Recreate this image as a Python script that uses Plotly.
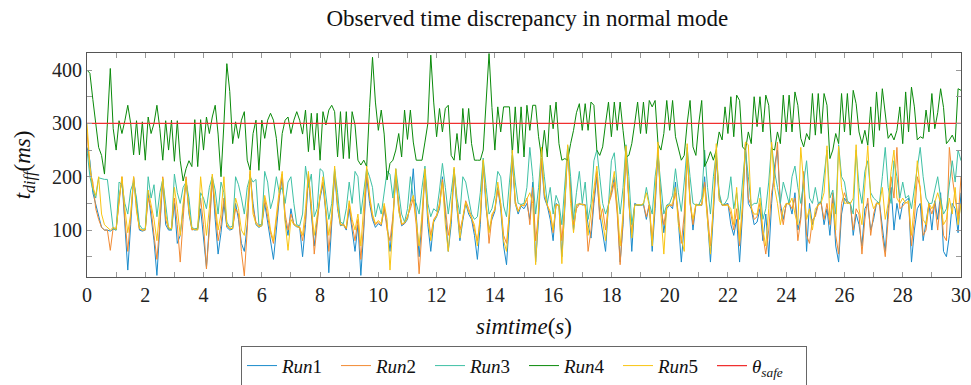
import numpy as np
import plotly.graph_objects as go

simtime = np.round(np.arange(301) * 0.1, 1)

run1 = [
 255,230,170,150,130,105,100,100,98,102,
 100,160,195,110,25,110,198,150,100,98,
 100,170,130,80,15,100,195,110,100,100,
 150,75,90,140,195,130,102,100,101,140,
 90,30,110,200,120,55,95,150,105,100,
 102,150,120,75,60,110,205,150,110,105,
 108,150,115,80,45,100,160,198,120,90,
 140,110,106,105,50,110,200,130,70,120,
 160,185,130,20,110,205,140,108,110,100,
 140,95,60,110,15,100,200,150,120,105,
 112,108,140,110,60,120,200,140,108,112,
 120,150,215,130,50,120,210,110,60,115,
 125,140,200,130,60,110,210,140,80,118,
 150,130,120,90,45,110,225,140,100,120,
 135,180,140,70,35,120,230,150,130,145,
 140,150,120,190,40,120,230,160,145,120,
 80,150,145,50,140,255,180,100,145,150,
 147,148,110,85,150,200,130,90,60,150,
 170,200,140,40,110,250,160,60,150,147,
 147,148,120,147,60,140,250,150,95,140,
 147,140,190,120,40,110,240,160,100,148,
 148,146,200,120,40,130,235,160,147,148,
 150,110,90,120,40,130,260,150,140,110,
 115,140,80,130,50,150,220,250,150,120,
 148,152,130,170,100,125,200,60,150,110,
 130,150,152,110,140,90,160,70,40,130,
 160,150,152,90,130,110,70,140,150,100,
 120,150,152,110,60,140,180,100,150,120,
 150,155,160,40,100,140,150,80,120,150,
 100,155,120,170,60,50,90,150,140,95,170]

run2 = [
 285,210,190,140,120,105,100,100,62,105,
 102,150,200,120,60,125,200,140,102,100,
 100,160,140,90,45,110,200,120,102,101,
 160,110,40,120,200,140,100,102,103,160,
 110,27,100,195,130,80,110,160,108,102,
 104,140,130,60,14,100,210,140,115,108,
 110,160,125,95,75,120,170,205,130,100,
 130,112,108,106,80,120,205,150,55,110,
 165,190,140,60,120,210,150,110,112,102,
 150,110,80,120,45,110,210,160,125,110,
 115,110,145,100,80,125,205,150,110,113,
 125,140,160,110,18,100,212,130,90,120,
 128,150,195,140,90,120,212,150,100,122,
 155,140,125,100,80,120,230,150,75,125,
 140,175,150,90,75,130,240,155,135,148,
 145,160,110,180,80,130,235,165,148,130,
 95,148,146,80,150,250,170,110,140,148,
 149,147,60,100,160,210,120,140,100,148,
 165,190,130,35,120,245,150,95,148,146,
 146,149,125,148,80,150,255,140,110,145,
 148,145,170,130,75,130,245,150,110,147,
 147,148,190,130,70,140,240,165,146,147,
 148,130,100,140,70,140,262,160,145,120,
 125,150,90,55,100,170,200,265,140,110,
 150,150,140,160,80,120,210,90,75,120,
 125,148,150,120,150,110,170,90,55,150,
 170,152,150,100,140,130,55,120,160,90,
 130,151,150,90,50,120,200,160,255,140,
 145,152,150,70,120,200,180,90,100,148,
 130,150,100,160,90,80,255,200,160,120,200]

run3 = [
 250,200,175,160,198,196,195,195,150,102,
 100,190,185,150,130,175,190,160,110,102,
 102,200,160,185,125,170,195,150,103,100,
 205,170,150,180,190,160,105,102,104,170,
 160,140,180,200,175,130,190,170,115,105,
 108,200,185,160,130,180,200,190,195,110,
 110,210,190,140,160,200,170,180,150,190,
 200,150,110,108,130,220,180,205,125,140,
 215,210,160,120,150,215,170,115,112,140,
 190,150,210,200,130,170,215,200,180,125,
 150,130,170,210,205,160,215,175,130,115,
 140,200,160,150,130,180,220,150,125,140,
 135,175,225,180,130,170,215,160,130,200,
 190,160,130,120,125,170,235,180,130,140,
 165,210,200,145,125,190,245,190,150,148,
 150,180,255,200,130,180,250,200,150,180,
 130,165,150,110,190,258,200,120,170,210,
 150,190,120,150,230,250,200,150,130,147,
 230,245,180,130,180,260,200,110,147,147,
 148,147,180,150,130,200,240,180,130,147,
 150,165,215,170,135,190,255,200,150,147,
 147,160,250,180,130,200,245,170,147,150,
 160,200,140,170,120,190,250,200,145,150,
 150,180,120,140,190,262,210,180,150,190,
 170,150,200,220,180,150,190,230,160,150,
 180,150,155,200,250,160,175,130,260,200,
 190,155,150,130,250,180,150,210,230,170,
 160,155,150,200,255,180,150,230,200,160,
 190,160,165,140,180,220,255,200,160,150,
 150,175,200,160,130,140,180,230,190,250,230]

run4 = [
 400,394,345,300,255,240,205,300,403,290,
 250,305,281,305,334,300,241,305,241,303,
 231,312,281,300,334,290,231,305,250,306,
 229,305,230,192,215,230,219,307,219,307,
 250,312,281,312,334,280,200,300,412,360,
 262,303,272,306,322,231,212,281,306,212,
 306,272,306,319,306,272,212,281,306,312,
 281,306,322,306,280,325,247,319,250,319,
 231,322,297,325,334,322,237,322,234,322,
 234,322,297,231,222,231,219,330,424,340,
 287,325,280,194,225,231,250,281,237,325,
 270,325,265,231,231,231,265,300,428,340,
 275,328,284,328,334,240,231,281,231,328,
 262,328,262,231,231,231,250,340,431,330,
 250,331,284,331,331,331,244,331,244,331,
 237,334,287,334,334,275,237,287,237,334,
 290,340,262,231,234,231,262,287,320,337,
 287,337,287,340,334,250,240,256,300,340,
 275,340,287,340,287,237,240,262,300,340,
 281,340,281,343,331,343,262,250,281,343,
 287,343,275,250,231,240,300,343,256,240,
 300,343,219,231,247,231,250,284,269,331,
 281,350,275,353,343,256,250,284,262,350,
 294,350,284,353,334,253,250,284,262,353,
 284,353,284,359,334,272,256,281,269,356,
 278,356,281,356,334,234,250,281,262,356,
 284,356,278,362,337,284,262,287,259,331,
 256,359,287,365,319,272,281,269,287,331,
 262,359,284,368,331,269,275,272,325,284,
 356,290,320,365,330,262,269,278,265,365,362]

run5 = [
 300,220,180,165,200,130,110,105,100,105,
 101,155,200,140,95,130,200,135,103,100,
 101,175,150,120,80,135,198,130,105,102,
 180,140,90,150,195,135,103,101,100,200,
 150,90,140,205,150,100,130,200,110,103,
 103,160,140,100,90,140,212,130,112,106,
 108,165,140,100,80,130,175,210,115,62,
 120,110,107,104,90,140,210,140,90,130,
 170,200,135,90,130,220,145,110,109,105,
 155,120,100,130,70,140,220,165,130,112,
 118,112,150,120,25,110,215,135,112,114,
 122,150,165,120,70,130,215,125,80,118,
 126,145,190,110,60,130,218,145,85,125,
 152,135,122,110,70,130,232,150,95,130,
 138,190,150,80,60,140,250,150,135,146,
 147,160,170,150,35,140,255,170,146,135,
 100,147,147,37,160,260,150,95,148,149,
 148,146,90,130,170,220,150,110,80,146,
 175,210,145,70,130,258,155,85,146,148,
 147,150,170,146,70,180,265,130,55,145,
 146,150,180,110,85,60,262,150,120,149,
 146,147,180,110,55,150,262,155,148,146,
 147,140,110,180,80,150,265,260,140,130,
 130,160,100,70,140,265,180,150,110,140,
 150,148,160,130,110,255,180,120,140,100,
 140,147,151,170,258,120,150,100,257,180,
 150,151,149,160,260,140,110,180,258,160,
 140,150,148,180,120,150,210,250,160,150,
 160,150,155,90,150,230,170,120,110,150,
 140,152,170,150,110,120,160,130,180,110,150]

theta_x = [0, 30]
theta_safe = [300, 300]

names = ["<i>Run</i>1", "<i>Run</i>2", "<i>Run</i>3", "<i>Run</i>4", "<i>Run</i>5"]
colors = ["#1a8bcb", "#f28a32", "#3fc1a5", "#0a8a0a", "#f9c512"]
series = [run1, run2, run3, run4, run5]

SERIF = "Liberation Serif, Times New Roman, serif"

fig = go.Figure()
for nm, col, s in zip(names, colors, series):
    fig.add_trace(go.Scatter(x=simtime, y=s, mode="lines", name=nm,
                             line=dict(color=col, width=1)))
fig.add_trace(go.Scatter(x=theta_x, y=theta_safe, mode="lines",
                         name="<i>θ</i><sub><i>safe</i></sub>",
                         line=dict(color="#f03030", width=1.3)))

axis_common = dict(showline=True, linecolor="#555555", linewidth=1, mirror="ticks",
                   ticks="inside", ticklen=5, tickcolor="#999999", tickwidth=1,
                   showgrid=False, zeroline=False, automargin=False,
                   tickfont=dict(family=SERIF, size=20, color="#222"))

fig.update_xaxes(range=[0, 30], dtick=2, tick0=0,
                 minor=dict(dtick=1, ticks="inside", ticklen=5, tickcolor="#999999", showgrid=False),
                 title=dict(text="<i>simtime</i>(<i>s</i>)", font=dict(family=SERIF, size=23, color="#111"), standoff=12),
                 **axis_common)
fig.update_yaxes(range=[12, 432], dtick=100, tick0=0,
                 minor=dict(dtick=50, ticks="inside", ticklen=5, tickcolor="#999999", showgrid=False),
                 title=dict(text="<i>t</i><sub><i>diff</i></sub>(<i>ms</i>)", font=dict(family=SERIF, size=23, color="#111"), standoff=14),
                 **axis_common)

fig.update_layout(
    width=971, height=385,
    margin=dict(l=87, r=10, t=53, b=108),
    paper_bgcolor="white", plot_bgcolor="white",
    title=dict(text="Observed time discrepancy in normal mode", x=0.543, xanchor="center",
               y=0.953, yanchor="middle", font=dict(family=SERIF, size=23, color="#111")),
    showlegend=True,
    legend=dict(orientation="h", x=0.5, xanchor="center", xref="paper",
                y=0.102, yanchor="top", yref="container",
                bordercolor="#666666", borderwidth=1, bgcolor="white",
                font=dict(family=SERIF, size=19, color="#111"),
                entrywidth=49, entrywidthmode="pixels",
                tracegroupgap=0),
)

# remove the default 8px page margin so the 971x385 figure fills the window exactly
fig.write_html("out.html",
               config={"displayModeBar": False},
               post_script="document.body.style.margin='0';document.body.style.overflow='hidden';")
